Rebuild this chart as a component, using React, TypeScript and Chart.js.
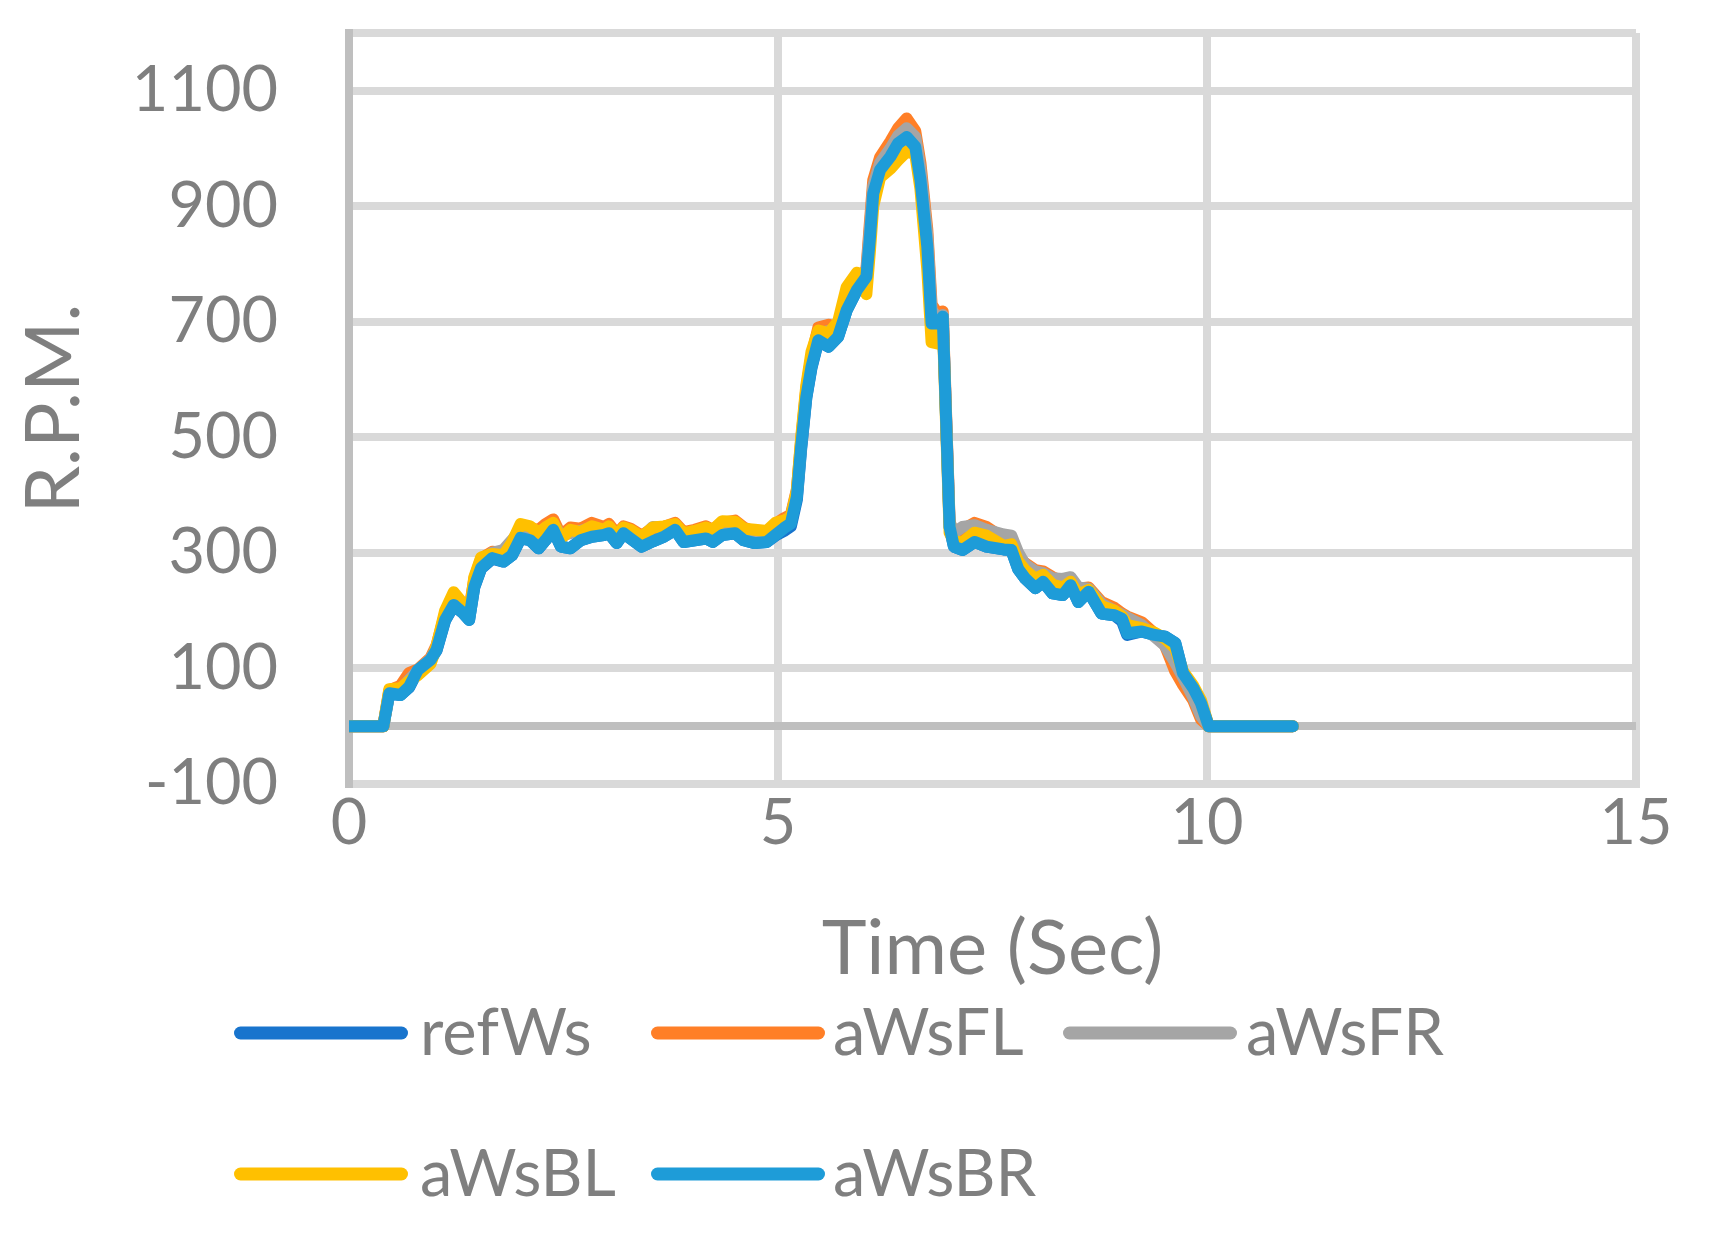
import React, { useEffect, useRef } from "react";
import { Chart, registerables } from "chart.js";

Chart.register(...registerables);

// ---- data ----
const timeSec = [
  0, 0.4, 0.47, 0.6, 0.7, 0.8, 0.95, 1.02, 1.12, 1.22,
  1.33, 1.4, 1.46, 1.54, 1.67, 1.8, 1.9, 2.0, 2.11, 2.21,
  2.29, 2.38, 2.47, 2.58, 2.7, 2.83, 2.97, 3.03, 3.12, 3.2,
  3.28, 3.41, 3.54, 3.67, 3.8, 3.9, 4.03, 4.16, 4.24, 4.35,
  4.5, 4.6, 4.73, 4.87, 4.97, 5.07, 5.15, 5.22, 5.27, 5.33,
  5.39, 5.47, 5.59, 5.7, 5.8, 5.92, 6.03, 6.07, 6.11, 6.19,
  6.31, 6.4, 6.5, 6.6, 6.66, 6.74, 6.79, 6.87, 6.92, 7.0,
  7.05, 7.15, 7.29, 7.43, 7.63, 7.72, 7.8, 7.88, 8.0, 8.09,
  8.2, 8.32, 8.41, 8.5, 8.62, 8.77, 8.92, 9.01, 9.07, 9.24,
  9.39, 9.51, 9.63, 9.72, 9.84, 9.93, 10.02, 11.0,
];

const refWs = [
  0, 0, 56, 54, 67, 96, 115, 131, 183, 209,
  196, 184, 240, 273, 290, 285, 296, 325, 322, 308,
  322, 339, 311, 308, 322, 328, 331, 334, 317, 334,
  325, 311, 320, 328, 340, 319, 322, 325, 319, 331,
  334, 322, 317, 319, 330, 338, 346, 392, 480, 568,
  620, 667, 657, 674, 720, 755, 778, 842, 922, 963,
  986, 1008, 1020, 1003, 946, 830, 697, 697, 709, 345,
  311, 305, 319, 311, 306, 305, 272, 256, 239, 250,
  230, 227, 244, 215, 233, 195, 192, 182, 158, 164,
  158, 155, 144, 92, 66, 40, 0, 0,
];

const aWsFL = [
  0, 0, 62, 70, 92, 98, 118, 140, 195, 222,
  205, 200, 255, 290, 302, 300, 318, 345, 342, 340,
  350, 358, 330, 344, 342, 352, 345, 350, 332, 346,
  342, 330, 342, 345, 352, 336, 340, 346, 340, 352,
  356, 344, 336, 334, 350, 360, 366, 410, 495, 585,
  640, 690, 695, 690, 745, 775, 790, 870, 945, 985,
  1012, 1035, 1052, 1030, 975, 860, 730, 712, 718, 355,
  330, 340, 352, 345, 325, 322, 292, 282, 270, 268,
  258, 250, 255, 238, 240, 215, 205, 195, 190, 180,
  160, 140, 95, 72, 45, 12, 0, 0,
];

const aWsFR = [
  0, 0, 60, 62, 80, 96, 116, 136, 190, 215,
  202, 192, 250, 284, 300, 305, 322, 340, 334, 332,
  340, 350, 330, 334, 338, 344, 336, 345, 328, 342,
  338, 326, 345, 344, 348, 332, 338, 340, 336, 345,
  350, 340, 332, 330, 345, 355, 362, 405, 490, 578,
  632, 680, 684, 684, 738, 768, 785, 860, 935, 975,
  1000, 1022, 1035, 1020, 965, 850, 720, 705, 712, 352,
  335, 345, 348, 340, 332, 330, 300, 280, 268, 265,
  256, 255, 258, 240, 238, 212, 200, 193, 188, 175,
  155, 140, 110, 85, 50, 18, 0, 0,
];

const aWsBL = [
  0, 0, 64, 66, 78, 88, 108, 138, 200, 232,
  212, 190, 258, 292, 298, 296, 318, 350, 346, 335,
  344, 352, 325, 340, 336, 346, 340, 346, 330, 344,
  340, 328, 344, 346, 350, 334, 338, 344, 340, 355,
  354, 342, 340, 338, 352, 356, 362, 408, 500, 590,
  648, 685, 680, 700, 760, 785, 748, 820, 900, 950,
  965, 980, 995, 990, 930, 790, 665, 662, 700, 335,
  320, 318, 335, 330, 312, 315, 285, 270, 255, 262,
  245, 240, 250, 228, 236, 208, 200, 190, 175, 170,
  162, 152, 135, 95, 70, 45, 0, 0,
];

const aWsBR = [
  0, 0, 57, 54, 68, 97, 115, 132, 184, 210,
  196, 184, 241, 274, 291, 285, 296, 326, 322, 308,
  322, 340, 311, 308, 322, 328, 331, 334, 317, 334,
  325, 311, 320, 328, 340, 319, 322, 325, 319, 331,
  334, 322, 317, 319, 331, 343, 351, 397, 484, 570,
  622, 668, 657, 674, 720, 755, 778, 842, 922, 963,
  986, 1009, 1020, 1003, 946, 830, 697, 697, 709, 345,
  311, 305, 319, 311, 306, 305, 272, 256, 239, 250,
  230, 227, 244, 215, 233, 195, 192, 186, 161, 164,
  158, 155, 144, 92, 66, 40, 0, 0,
];

const seriesNames = ["refWs", "aWsFL", "aWsFR", "aWsBL", "aWsBR"];
const seriesValues = [refWs, aWsFL, aWsFR, aWsBL, aWsBR];
const seriesColors = ["#1874CD", "#FF7F27", "#A5A5A5", "#FFC000", "#1E9CD8"];

const yTickValues = [-100, 0, 100, 300, 500, 700, 900, 1100, 1200];
const yLabelledTicks = [-100, 100, 300, 500, 700, 900, 1100];
const xTitle = "Time (Sec)";
const yTitle = "R.P.M.";

// ---- styling ----
const FONT = 'Lato, "Open Sans", sans-serif';
const TEXT = "#7F7F7F";
const GRID = "#D9D9D9";
const AXIS = "#BFBFBF";

const legendPlugin = {
  id: "gridLegend",
  afterDraw(chart: any) {
    const ctx = chart.ctx;
    const lineStarts = [234, 651, 1063];
    const textStarts = [420, 833, 1246];
    const rows = [1033, 1174];
    ctx.save();
    ctx.font = `65px ${FONT}`;
    ctx.textBaseline = "middle";
    ctx.textAlign = "left";
    chart.data.datasets.forEach((ds: any, i: number) => {
      const r = Math.floor(i / 3);
      const c = i % 3;
      const y = rows[r];
      ctx.beginPath();
      ctx.lineCap = "round";
      ctx.lineWidth = 13;
      ctx.strokeStyle = ds.borderColor;
      ctx.moveTo(lineStarts[c] + 6.5, y);
      ctx.lineTo(lineStarts[c] + 174 - 6.5, y);
      ctx.stroke();
      ctx.fillStyle = TEXT;
      ctx.fillText(ds.label, textStarts[c], y + 1);
    });
    ctx.restore();
  },
};

export default function App() {
  const canvasRef = useRef<HTMLCanvasElement | null>(null);

  useEffect(() => {
    const canvas = canvasRef.current;
    if (!canvas) return;
    const datasets = seriesNames.map((name, i) => ({
      label: name,
      data: timeSec.map((t, k) => ({ x: t, y: seriesValues[i][k] })),
      borderColor: seriesColors[i],
      backgroundColor: seriesColors[i],
      borderWidth: 12,
      pointRadius: 0,
      tension: 0,
      borderJoinStyle: "round",
      borderCapStyle: "round",
      fill: false,
      clip: 0,
      order: seriesNames.length - 1 - i,
    }));

    const chart = new Chart(canvas, {
      type: "line",
      data: { datasets } as any,
      plugins: [legendPlugin],
      options: {
        responsive: false,
        animation: false,
        devicePixelRatio: 1,
        events: [],
        layout: { padding: { left: 0, top: 33, right: 73, bottom: 246 } },
        plugins: {
          legend: { display: false },
          tooltip: { enabled: false },
          title: { display: false },
        },
        scales: {
          x: {
            type: "linear",
            min: 0,
            max: 15,
            afterFit: (scale: any) => {
              scale.height = 203;
            },
            ticks: {
              stepSize: 5,
              autoSkip: false,
              maxRotation: 0,
              padding: 2,
              color: TEXT,
              font: { family: FONT, size: 63, lineHeight: 1.2 },
            },
            grid: {
              drawTicks: false,
              lineWidth: 8,
              color: (c: any) => (c.tick && c.tick.value === 0 ? AXIS : GRID),
            },
            border: { display: true, color: GRID, width: 8 },
            title: {
              display: true,
              text: xTitle,
              color: TEXT,
              font: { family: FONT, size: 76, lineHeight: 1 },
              padding: { top: 0, bottom: 0 },
            },
          },
          y: {
            type: "linear",
            min: -100,
            max: 1200,
            afterFit: (scale: any) => {
              scale.width = 349;
              scale.paddingTop = 0;
              scale.paddingBottom = 0;
            },
            afterBuildTicks: (scale: any) => {
              scale.ticks = yTickValues.map((v) => ({ value: v }));
            },
            ticks: {
              padding: 71,
              color: TEXT,
              font: { family: FONT, size: 63, lineHeight: 1 },
              callback: (v: any) => (yLabelledTicks.includes(Number(v)) ? String(v) : ""),
            },
            grid: {
              drawTicks: false,
              lineWidth: 8,
              color: (c: any) => (c.tick && c.tick.value === 0 ? AXIS : GRID),
            },
            border: { display: true, color: AXIS, width: 8 },
            title: {
              display: true,
              text: yTitle,
              color: TEXT,
              font: { family: FONT, size: 76, lineHeight: 1 },
              padding: { top: 16, bottom: 0 },
            },
          },
        },
      } as any,
    });
    return () => chart.destroy();
  }, []);

  return (
    <div style={{ position: "absolute", left: 0, top: 0, width: 1709, height: 1233, background: "#fff" }}>
      <canvas ref={canvasRef} width={1709} height={1233} style={{ display: "block" }} />
    </div>
  );
}
